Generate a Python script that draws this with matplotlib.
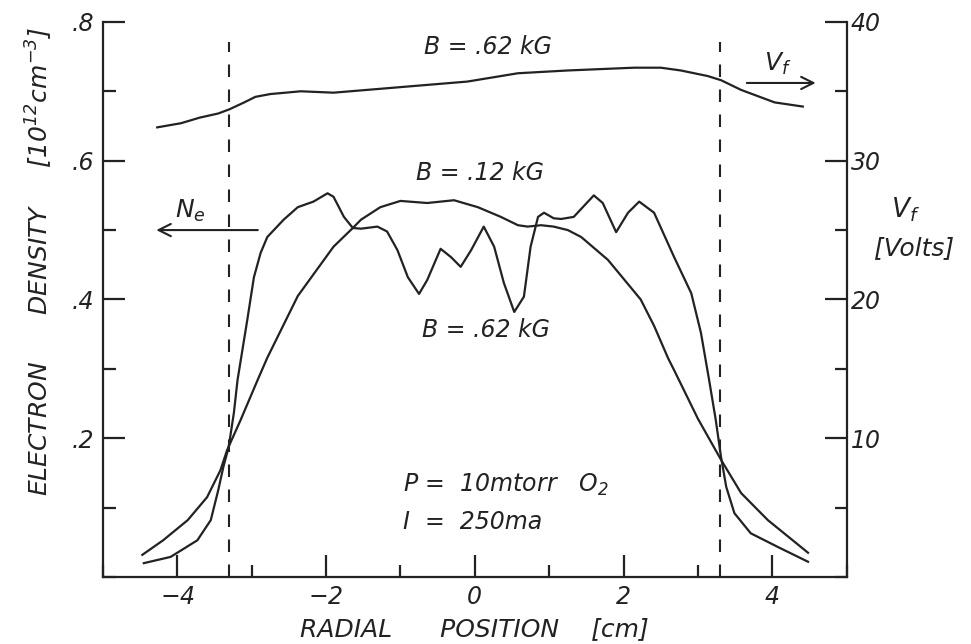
import matplotlib
matplotlib.use("Agg")
import matplotlib.pyplot as plt
from matplotlib.ticker import MultipleLocator

plt.rcParams["font.family"] = "DejaVu Sans"
plt.rcParams["font.style"] = "italic"
plt.rcParams["mathtext.fontset"] = "dejavusans"
plt.rcParams["mathtext.default"] = "it"
plt.rcParams["lines.scale_dashes"] = False

ink = "#222222"

# floating potential, B = .62 kG (right axis, volts)
vf_x = [-4.27, -3.95, -3.7, -3.45, -3.3, -3.1, -2.95, -2.75, -2.34, -1.9, -1.0, -0.1,
        0.58, 1.25, 2.14, 2.5, 2.77, 3.13, 3.31, 3.58, 4.03, 4.41]
vf_y = [32.4, 32.7, 33.1, 33.4, 33.7, 34.2, 34.6, 34.8, 35.0, 34.9, 35.3, 35.7,
        36.3, 36.5, 36.7, 36.7, 36.5, 36.1, 35.8, 35.1, 34.2, 33.9]

# electron density, B = .12 kG (smooth profile)
ne12_x = [-4.47, -4.19, -3.86, -3.60, -3.42, -3.33, -3.15, -2.92, -2.79, -2.38, -1.90,
          -1.64, -1.53, -1.27, -1.0, -0.64, -0.28, 0.04, 0.35, 0.58, 0.71, 0.89, 1.06,
          1.25, 1.43, 1.79, 2.23, 2.41, 2.60, 2.68, 3.0, 3.31, 3.58, 3.94, 4.48]
ne12_y = [0.032, 0.053, 0.082, 0.115, 0.154, 0.183, 0.226, 0.284, 0.316, 0.405, 0.476,
          0.503, 0.515, 0.533, 0.542, 0.539, 0.543, 0.533, 0.519, 0.507, 0.505, 0.507,
          0.505, 0.50, 0.49, 0.457, 0.40, 0.362, 0.315, 0.298, 0.228, 0.169, 0.121,
          0.082, 0.035]

# electron density, B = .62 kG (oscillating profile)
ne62_x = [-4.45, -4.09, -3.73, -3.55, -3.45, -3.38, -3.31, -3.24, -3.19, -3.06, -2.97,
          -2.88, -2.79, -2.57, -2.38, -2.17, -1.98, -1.90, -1.76, -1.64, -1.53, -1.31,
          -1.18, -1.04, -0.90, -0.75, -0.64, -0.46, -0.32, -0.19, -0.05, 0.12, 0.26,
          0.39, 0.53, 0.66, 0.75, 0.85, 0.93, 1.06, 1.16, 1.33, 1.60, 1.72, 1.90, 2.06,
          2.21, 2.41, 2.68, 2.91, 3.04, 3.15, 3.24, 3.31, 3.38, 3.49, 3.71, 4.08, 4.48]
ne62_y = [0.02, 0.029, 0.053, 0.082, 0.125, 0.159, 0.187, 0.236, 0.284, 0.37, 0.432,
          0.467, 0.49, 0.515, 0.533, 0.541, 0.553, 0.548, 0.519, 0.503, 0.502, 0.505,
          0.498, 0.471, 0.432, 0.408, 0.428, 0.473, 0.461, 0.447, 0.471, 0.505, 0.476,
          0.424, 0.382, 0.404, 0.476, 0.519, 0.525, 0.517, 0.516, 0.519, 0.55, 0.539,
          0.497, 0.525, 0.541, 0.525, 0.461, 0.409, 0.352, 0.284, 0.226, 0.173, 0.13,
          0.092, 0.063, 0.043, 0.022]

probe_edges = [-3.3, 3.3]
x_major = [-4, -2, 0, 2, 4]
x_labels = ["$-$4", "$-$2", "0", "2", "4"]
y_major = [0.2, 0.4, 0.6, 0.8]
y_labels = [".2", ".4", ".6", ".8"]
v_major = [10, 20, 30, 40]
v_labels = ["10", "20", "30", "40"]

fig = plt.figure(figsize=(9.71, 6.44), dpi=100)
ax = fig.add_axes([0.106, 0.104, 0.766, 0.862])
ax2 = ax.twinx()

ax.set_xlim(-5, 5)
ax.set_ylim(0, 0.8)
ax2.set_ylim(0, 40)

lw = 1.6
ax.plot(ne12_x, ne12_y, color=ink, lw=lw)
ax.plot(ne62_x, ne62_y, color=ink, lw=lw)
ax2.plot(vf_x, vf_y, color=ink, lw=lw)
for xe in probe_edges:
    ax.plot([xe, xe], [0, 0.771], color=ink, lw=1.5, dashes=(9, 9))

# spines
for s in ["top", "right"]:
    ax.spines[s].set_visible(False)
for s in ["top", "left", "bottom"]:
    ax2.spines[s].set_visible(False)
for sp in [ax.spines["left"], ax.spines["bottom"], ax2.spines["right"]]:
    sp.set_linewidth(1.6)
    sp.set_color(ink)

# ticks
ax.set_xticks(x_major)
ax.set_xticklabels(x_labels)
ax.xaxis.set_minor_locator(MultipleLocator(1))
ax.set_yticks(y_major)
ax.set_yticklabels(y_labels)
ax.yaxis.set_minor_locator(MultipleLocator(0.1))
ax2.set_yticks(v_major)
ax2.set_yticklabels(v_labels)
ax2.yaxis.set_minor_locator(MultipleLocator(5))
for a in [ax, ax2]:
    a.tick_params(which="major", direction="in", length=16, width=1.6, color=ink,
                  labelsize=17, labelcolor=ink)
    a.tick_params(which="minor", direction="in", length=9, width=1.6, color=ink)
ax.tick_params(axis="x", top=False, pad=6)
ax.tick_params(axis="y", right=False, pad=6)
ax2.tick_params(axis="y", pad=3)

# labels
ax.text(0.5, -0.093, "RADIAL      POSITION    [cm]", transform=ax.transAxes,
        ha="center", va="center", fontsize=18, color=ink)
ax.text(-0.085, 0.568, "ELECTRON      DENSITY     [10$^{12}$cm$^{-3}$]", transform=ax.transAxes,
        rotation=90, ha="center", va="center", fontsize=18, color=ink)
fig.text(0.933, 0.674, "V$_f$", ha="center", va="center", fontsize=19, color=ink)
fig.text(0.941, 0.615, "[Volts]", ha="center", va="center", fontsize=18, color=ink)

# annotations
ax.text(0.17, 0.764, "B = .62 kG", ha="center", va="center", fontsize=17, color=ink)
ax.text(0.07, 0.582, "B = .12 kG", ha="center", va="center", fontsize=17, color=ink)
ax.text(0.15, 0.356, "B = .62 kG", ha="center", va="center", fontsize=17, color=ink)
ax.text(-0.96, 0.133, "P =  10mtorr   O$_2$", ha="left", va="center", fontsize=17, color=ink)
ax.text(-0.96, 0.079, "I  =  250ma", ha="left", va="center", fontsize=17, color=ink)

ax.annotate("", xy=(-4.32, 0.5), xytext=(-2.88, 0.5),
            arrowprops=dict(arrowstyle="->", color=ink, lw=1.5, mutation_scale=22))
ax.text(-3.82, 0.527, "N$_e$", ha="center", va="center", fontsize=18, color=ink)
ax2.annotate("", xy=(4.62, 35.6), xytext=(3.62, 35.6),
             arrowprops=dict(arrowstyle="->", color=ink, lw=1.5, mutation_scale=22))
ax2.text(4.08, 37.0, "V$_f$", ha="center", va="center", fontsize=18, color=ink)

fig.savefig("out.png", dpi=100, facecolor="white")
